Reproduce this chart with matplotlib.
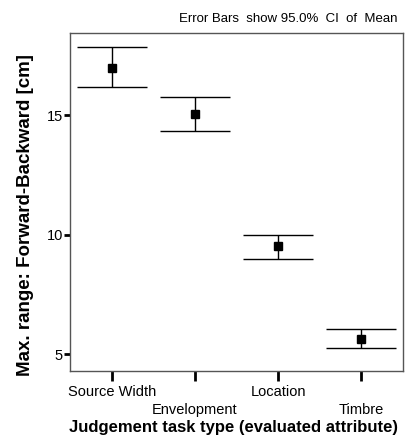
import numpy as np
import matplotlib
matplotlib.use('Agg')
import matplotlib.pyplot as plt

plt.rcParams['font.family'] = ['Liberation Sans', 'DejaVu Sans']

# values
categories = ['Source Width', 'Envelopment', 'Location', 'Timbre']
means = [16.98, 15.05, 9.52, 5.65]
upper = [17.86, 15.77, 10.0, 6.05]
lower = [16.16, 14.33, 8.98, 5.28]

x = np.arange(len(categories))
yerr = [np.array(means) - np.array(lower), np.array(upper) - np.array(means)]

fig = plt.figure(figsize=(4.11, 4.43), dpi=100)
ax = fig.add_axes([70/411, 1 - 371/443, 333/411, 338/443])

ax.errorbar(x, means, yerr=yerr, fmt='s', color='black', ms=5.5,
            ecolor='black', elinewidth=1.0, capsize=25, capthick=1.0)

ax.set_xlim(-0.5, 3.5)
ax.set_ylim(4.3, 18.43)
ax.set_yticks([5, 10, 15])
ax.set_xticks(x)
ax.set_xticklabels(categories)
# stagger the tick labels like the original
for i, lab in enumerate(ax.get_xticklabels()):
    if i % 2 == 1:
        lab.set_y(-0.055)

ax.tick_params(axis='y', direction='out', length=4, width=2, labelsize=10.5, pad=1)
ax.tick_params(axis='x', direction='out', length=7, width=2, labelsize=10.5, pad=3)

for s in ax.spines.values():
    s.set_color('#555555')
    s.set_linewidth(1.0)

ax.set_xlabel('Judgement task type (evaluated attribute)', fontsize=12,
              fontweight='bold')
ax.xaxis.label.set_va('center')
ax.xaxis.set_label_coords(0.49, -0.166)
ax.set_ylabel('Max. range: Forward-Backward [cm]', fontsize=13.5,
              fontweight='bold')
ax.yaxis.label.set_va('center')
ax.yaxis.set_label_coords(-0.135, 0.46)
ax.text(0.982, 1.04, 'Error Bars  show 95.0%  CI  of  Mean', fontsize=9.5,
        ha='right', va='center', transform=ax.transAxes)

fig.savefig('out.png', dpi=100)
